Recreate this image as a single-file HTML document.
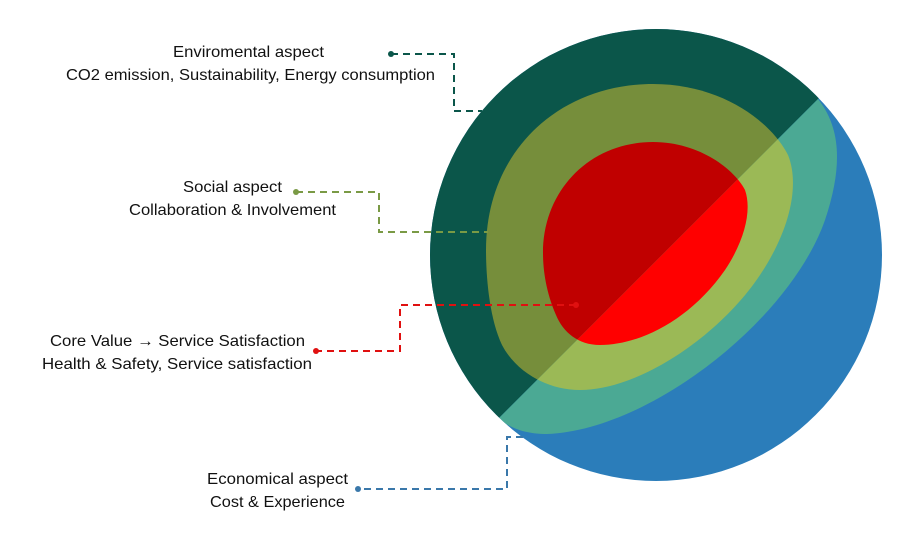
<!DOCTYPE html>
<html><head><meta charset="utf-8"><style>html,body{margin:0;padding:0;background:#fff;width:905px;height:548px;overflow:hidden}</style></head>
<body>
<svg width="905" height="548" viewBox="0 0 905 548" xmlns="http://www.w3.org/2000/svg" font-family="Liberation Sans, sans-serif" font-size="16" fill="#111">
<defs>
<clipPath id="circ"><circle cx="656" cy="255" r="226"/></clipPath>
<clipPath id="rh"><polygon points="917,0 905,0 905,548 369,548"/></clipPath>
<clipPath id="lh"><polygon points="0,0 917,0 369,548 0,548"/></clipPath>
</defs>
<g clip-path="url(#circ)">
 <rect x="420" y="20" width="480" height="480" fill="#2B7DBA"/>
 <g clip-path="url(#lh)"><rect x="420" y="20" width="480" height="480" fill="#0B564A"/></g>
 <g clip-path="url(#rh)">
  <path d="M810,90 C840,120 845,160 825,220 C790,320 650,430 547,434 C520,434 505,425 495,415 L400,300 L700,0 Z" fill="#4BA994"/>
 </g>
 <path d="M653,84 C720,84 770,120 788,155 C800,185 790,230 760,275 C720,335 640,390 580,390 C545,390 515,370 502,345 C490,320 486,280 486,250 C486,150 560,84 653,84 Z" fill="#768E3B" clip-path="url(#lh)"/>
 <path d="M653,84 C720,84 770,120 788,155 C800,185 790,230 760,275 C720,335 640,390 580,390 C545,390 515,370 502,345 C490,320 486,280 486,250 C486,150 560,84 653,84 Z" fill="#9BB956" clip-path="url(#rh)"/>
 <path d="M653,142 C700,142 735,170 745,190 C752,210 745,240 725,270 C690,320 640,345 600,345 C578,345 563,332 556,315 C546,292 543,270 543,253 C543,190 590,142 653,142 Z" fill="#C00000" clip-path="url(#lh)"/>
 <path d="M653,142 C700,142 735,170 745,190 C752,210 745,240 725,270 C690,320 640,345 600,345 C578,345 563,332 556,315 C546,292 543,270 543,253 C543,190 590,142 653,142 Z" fill="#FF0000" clip-path="url(#rh)"/>
</g>
<g fill="none" stroke-width="2" stroke-dasharray="7,5">
 <polyline points="391,54 454,54 454,111 482,111" stroke="#0B564A"/>
 <polyline points="296,192 379,192 379,232 488,232" stroke="#7A9A45"/>
 <polyline points="576,305 400,305 400,351 316,351" stroke="#E01010"/>
 <polyline points="523,437 507,437 507,489 358,489" stroke="#3A78AA"/>
</g>
<circle cx="391" cy="54" r="3" fill="#0B564A"/>
<circle cx="296" cy="192" r="3" fill="#7A9A45"/>
<circle cx="576" cy="305" r="3" fill="#E01010"/>
<circle cx="316" cy="351" r="3" fill="#E01010"/>
<circle cx="358" cy="489" r="3" fill="#3A78AA"/>
<text x="173" y="57" textLength="151" lengthAdjust="spacingAndGlyphs">Enviromental aspect</text>
<text x="66" y="80" textLength="369" lengthAdjust="spacingAndGlyphs">CO2 emission, Sustainability, Energy consumption</text>
<text x="183" y="192" textLength="99" lengthAdjust="spacingAndGlyphs">Social aspect</text>
<text x="129" y="215" textLength="207" lengthAdjust="spacingAndGlyphs">Collaboration &amp; Involvement</text>
<text x="50" y="346" textLength="255" lengthAdjust="spacingAndGlyphs">Core Value <tspan font-weight="bold">→</tspan> Service Satisfaction</text>
<text x="42" y="369" textLength="270" lengthAdjust="spacingAndGlyphs">Health &amp; Safety, Service satisfaction</text>
<text x="207" y="484" textLength="141" lengthAdjust="spacingAndGlyphs">Economical aspect</text>
<text x="210" y="507" textLength="135" lengthAdjust="spacingAndGlyphs">Cost &amp; Experience</text>
</svg>
</body></html>
